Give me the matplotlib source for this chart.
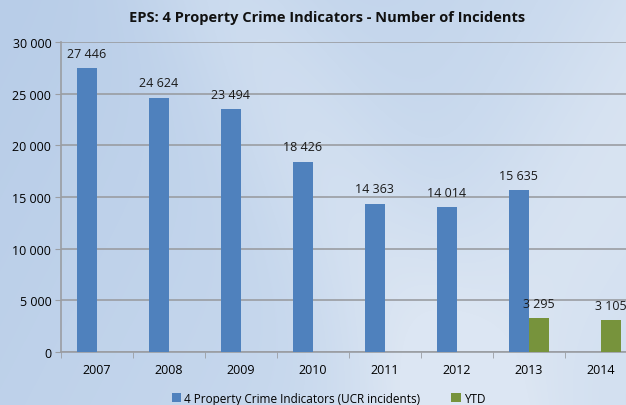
import numpy as np
import matplotlib
matplotlib.use("Agg")
import matplotlib.pyplot as plt
from matplotlib.colors import LinearSegmentedColormap
from matplotlib.ticker import FuncFormatter

# =====================================================
# DATA
# =====================================================
years = ["2007", "2008", "2009", "2010", "2011", "2012", "2013", "2014"]
ucr_incidents = [27446, 24624, 23494, 18426, 14363, 14014, 15635, None]
ytd_incidents = [None, None, None, None, None, None, 3295, 3105]

series_names = ["4 Property Crime Indicators (UCR incidents)", "YTD"]
title = "EPS: 4 Property Crime Indicators - Number of Incidents"

BLUE = "#4F81BD"
GREEN = "#77933C"
GRID = "#9A9DA2"

plt.rcParams['font.family'] = ['Open Sans', 'DejaVu Sans']

def fmt_space(v, pos=None):
    return f"{int(v):,}".replace(",", " ")

# =====================================================
# FIGURE + BACKGROUND
# =====================================================
fig = plt.figure(figsize=(6.26, 4.06), dpi=100)

bg = fig.add_axes([0, 0, 1, 1], zorder=-10)
h, w = 406, 626
yy, xx = np.mgrid[0:h, 0:w]
diag = (xx / w) * 0.75 + (yy / h) * 0.25
band1 = np.exp(-((xx - 0.55 * yy - 230) / 90.0) ** 2) * 0.35
band2 = np.exp(-((xx + 0.6 * yy - 700) / 120.0) ** 2) * 0.3
val = np.clip(diag * 0.7 + band1 + band2, 0, 1)
cmap = LinearSegmentedColormap.from_list("bg", ["#B8CDE8", "#CADAEE", "#DCE6F3"])
bg.imshow(val, cmap=cmap, aspect="auto", extent=[0, 1, 0, 1], vmin=0, vmax=1)
bg.axis("off")

ax = fig.add_axes([0.0975, 0.1305, 0.92, 0.7635])
ax.patch.set_alpha(0)

# =====================================================
# BARS
# =====================================================
x = np.arange(len(years))
bw = 0.28
ucr_vals = np.array([np.nan if v is None else v for v in ucr_incidents], dtype=float)
ytd_vals = np.array([np.nan if v is None else v for v in ytd_incidents], dtype=float)

b1 = ax.bar(x - bw / 2, ucr_vals, bw, color=BLUE, label=series_names[0], zorder=3)
b2 = ax.bar(x + bw / 2, ytd_vals, bw, color=GREEN, label=series_names[1], zorder=3)

for xi, v in zip(x, ucr_vals):
    if not np.isnan(v):
        ax.text(xi - bw / 2, v + 800, fmt_space(v), ha="center", va="bottom",
                fontsize=9, color="#1A1A1A")
for xi, v in zip(x, ytd_vals):
    if not np.isnan(v):
        ax.text(xi + bw / 2, v + 800, fmt_space(v), ha="center", va="bottom",
                fontsize=9, color="#1A1A1A")

# =====================================================
# AXES STYLE
# =====================================================
ax.set_xlim(-0.5, len(years) - 0.5)
ax.set_ylim(0, 30000)
ax.set_yticks(np.arange(0, 30001, 5000))
ax.yaxis.set_major_formatter(FuncFormatter(fmt_space))
ax.set_xticks(x)
ax.set_xticklabels(years)
ax.set_xticks(np.arange(-0.5, len(years)), minor=True)
ax.tick_params(axis="x", which="major", length=0, pad=8, labelsize=9)
ax.tick_params(axis="x", which="minor", length=4, color=GRID)
ax.tick_params(axis="y", length=4, color=GRID, labelsize=9, pad=3)

ax.yaxis.grid(True, color=GRID, linewidth=1.2, zorder=0)
ax.set_axisbelow(True)
for s in ["top", "right"]:
    ax.spines[s].set_visible(False)
for s in ["left", "bottom"]:
    ax.spines[s].set_color(GRID)
    ax.spines[s].set_linewidth(1.2)

fig.text(0.522, 0.956, title, ha="center", va="center", fontsize=10.5,
         fontweight="bold", color="#111111")

fig.legend(handles=[b1, b2], loc="center", bbox_to_anchor=(0.525, 0.016),
           ncol=2, frameon=False, fontsize=8.5, handlelength=0.8,
           handleheight=0.8, handletextpad=0.3, columnspacing=2.6)

fig.savefig("out.png", dpi=100)
